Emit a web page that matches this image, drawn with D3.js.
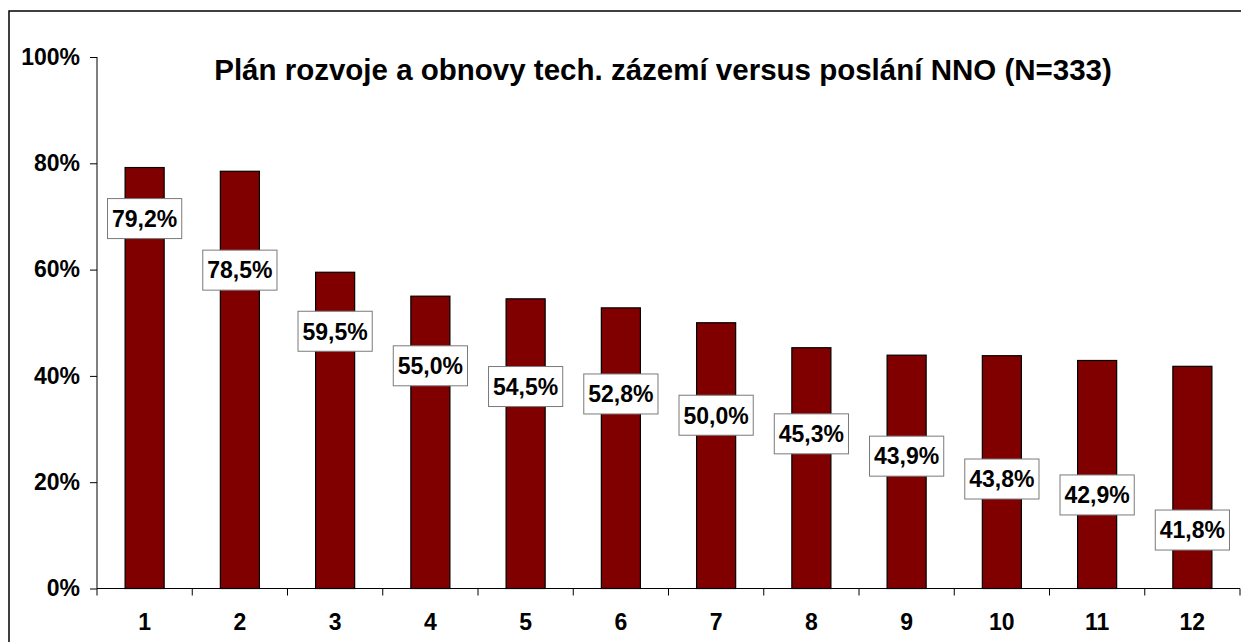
<!DOCTYPE html>
<html lang="cs">
<head>
<meta charset="UTF-8" />
<title>Plán rozvoje a obnovy tech. zázemí versus poslání NNO</title>
<style>
  body {
    margin: 0;
    background: #ffffff;
    font-family: 'Liberation Sans', Arial, sans-serif;
  }
  .frame { fill: none; stroke: #000; stroke-width: 1.5; }
  .bar { fill: #800000; stroke: #000; stroke-width: 1.2; }
  .axis path, .axis line { stroke: #000; }
  .lbl-box { fill: #fff; stroke: #7a7a7a; stroke-width: 1; }
  .lbl-text { font-size: 23px; font-weight: bold; fill: #000; }
  .title { font-size: 29.5px; font-weight: bold; fill: #000; }
</style>
<script src="https://d3js.org/d3.v7.min.js"></script>
</head>
<body>
<div id="chart"></div>
<script>
  // data
  const categories = ['1', '2', '3', '4', '5', '6', '7', '8', '9', '10', '11', '12'];
  const values = [79.2, 78.5, 59.5, 55.0, 54.5, 52.8, 50.0, 45.3, 43.9, 43.8, 42.9, 41.8];
  // where the value labels sit (in % units)
  const labelAt = [69.6, 59.9, 48.4, 41.9, 38.0, 36.6, 32.6, 29.1, 24.9, 20.6, 17.6, 11.0];
  const yTicks = [0, 20, 40, 60, 80, 100];
  const title = 'Plán rozvoje a obnovy tech. zázemí versus poslání NNO (N=333)';

  const width = 1241, height = 642;
  const plot = { left: 97, right: 1240, top: 57, bottom: 588.5 };

  const svg = d3.select('#chart')
    .append('svg')
    .attr('width', width)
    .attr('height', height);

  // outer chart frame (runs off the right/bottom edge)
  svg.append('rect')
    .attr('class', 'frame')
    .attr('x', 9)
    .attr('y', 11)
    .attr('width', 1300)
    .attr('height', 700);

  const x = d3.scaleBand()
    .domain(categories)
    .range([plot.left, plot.right])
    .paddingInner(0.59)
    .paddingOuter(0.295);

  const y = d3.scaleLinear()
    .domain([0, 100])
    .range([plot.bottom, plot.top]);

  function styleAxis(g) {
    g.attr('font-family', "'Liberation Sans', Arial, sans-serif")
     .attr('font-size', 23)
     .attr('font-weight', 'bold');
    g.selectAll('text').attr('fill', '#000');
  }

  // y axis
  const yAxis = svg.append('g')
    .attr('class', 'axis')
    .attr('transform', `translate(${plot.left},0)`)
    .call(d3.axisLeft(y)
      .tickValues(yTicks)
      .tickSize(7)
      .tickPadding(10)
      .tickFormat(d => d + '%'))
    .call(styleAxis);
  yAxis.select('.domain').attr('d', `M0,${plot.top}V${plot.bottom}`);

  // bars
  svg.selectAll('.bar')
    .data(values)
    .enter()
    .append('rect')
    .attr('class', 'bar')
    .attr('x', (d, i) => x(categories[i]))
    .attr('y', d => y(d))
    .attr('width', x.bandwidth())
    .attr('height', d => y(0) - y(d));

  // x axis
  const xAxis = svg.append('g')
    .attr('class', 'axis')
    .attr('transform', `translate(0,${plot.bottom})`)
    .call(d3.axisBottom(x).tickSize(0).tickPadding(25))
    .call(styleAxis);
  xAxis.select('.domain').attr('d', `M${plot.left},0H${plot.right}`);
  // ticks between categories
  xAxis.selectAll('.sep')
    .data(d3.range(categories.length + 1))
    .enter()
    .append('line')
    .attr('class', 'sep')
    .attr('x1', i => plot.left + i * x.step())
    .attr('x2', i => plot.left + i * x.step())
    .attr('y1', 0)
    .attr('y2', 7)
    .attr('stroke', '#000');

  // value labels
  const fmt = v => v.toFixed(1).replace('.', ',') + '%';
  const lbl = svg.selectAll('.lbl')
    .data(values)
    .enter()
    .append('g')
    .attr('class', 'lbl')
    .attr('transform', (d, i) =>
      `translate(${x(categories[i]) + x.bandwidth() / 2},${y(labelAt[i])})`);

  lbl.append('text')
    .attr('class', 'lbl-text')
    .attr('text-anchor', 'middle')
    .attr('dy', '0.36em')
    .text(fmt);

  lbl.each(function () {
    const g = d3.select(this);
    const bb = g.select('text').node().getBBox();
    g.insert('rect', 'text')
      .attr('class', 'lbl-box')
      .attr('x', -bb.width / 2 - 4.5)
      .attr('y', -20)
      .attr('width', bb.width + 9)
      .attr('height', 40);
  });

  // title
  svg.append('text')
    .attr('class', 'title')
    .attr('x', 663)
    .attr('y', 80)
    .attr('text-anchor', 'middle')
    .text(title);
</script>
</body>
</html>
